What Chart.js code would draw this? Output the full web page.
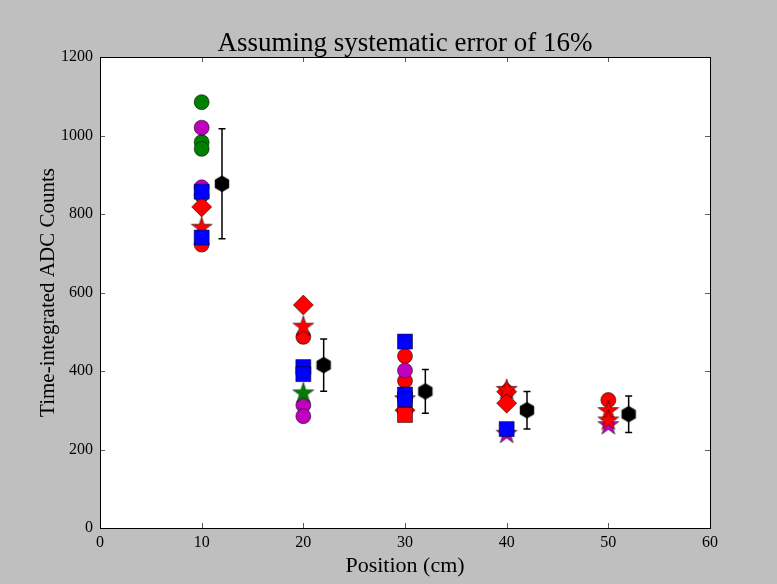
<!DOCTYPE html>
<html>
<head>
<meta charset="utf-8">
<script src="https://cdn.jsdelivr.net/npm/chart.js@4"></script>
<style>
  html, body { margin: 0; padding: 0; background: #bfbfbf; }
  body { width: 777px; height: 584px; overflow: hidden; }
  canvas { display: block; }
</style>
</head>
<body>
<canvas id="c" width="777" height="584"></canvas>
<script>
// ---- data ---------------------------------------------------------------
const chartTitle = 'Assuming systematic error of 16%';
const xLabel = 'Position (cm)';
const yLabel = 'Time-integrated ADC Counts';
const xTicks = [0, 10, 20, 30, 40, 50, 60];
const yTicks = [0, 200, 400, 600, 800, 1000, 1200];
const relError = 0.16;

const greenCircleX = [10, 10, 10, 10];
const greenCircleY = [1085, 983, 966, 848];

const redCircleX = [10, 20, 30, 30, 50];
const redCircleY = [722, 487, 438, 375, 326];

const magentaCircleX = [10, 10, 20, 20, 30];
const magentaCircleY = [1020, 868, 313, 285, 401];

const magentaStarX = [40, 50];
const magentaStarY = [240, 262];

const redDiamondX = [10, 20, 30, 40, 40];
const redDiamondY = [818, 568, 300, 347, 318];

const redStarX = [10, 20, 30, 40, 50, 50];
const redStarY = [765, 513, 328, 352, 298, 274];

const redSquareX = [30];
const redSquareY = [288];

const blueSquareX = [10, 10, 20, 20, 30, 30, 30, 40];
const blueSquareY = [857, 740, 410, 392, 475, 340, 328, 252];

const greenStarX = [20];
const greenStarY = [343];

const meanX = [12, 22, 32, 42, 52];
const meanY = [877, 415, 348, 300, 290];

// ---- helpers ------------------------------------------------------------
const EDGE = 'rgba(0,0,0,0.75)';
const SERIF = '"Liberation Serif", "Times New Roman", serif';

function pts(xs, ys) { return xs.map((x, i) => ({ x: x, y: ys[i] })); }

function polygonMarker(color, n, outer, inner) {
  const pad = 2;
  const size = Math.ceil(outer * 2 + pad * 2);
  const cv = document.createElement('canvas');
  cv.width = size; cv.height = size;
  const g = cv.getContext('2d');
  const c = size / 2;
  g.beginPath();
  const steps = inner ? n * 2 : n;
  for (let i = 0; i < steps; i++) {
    const r = inner ? (i % 2 === 0 ? outer : inner) : outer;
    const a = -Math.PI / 2 + i * 2 * Math.PI / steps;
    const px = c + r * Math.cos(a), py = c + r * Math.sin(a);
    if (i === 0) g.moveTo(px, py); else g.lineTo(px, py);
  }
  g.closePath();
  g.fillStyle = color; g.fill();
  g.lineWidth = 0.7; g.strokeStyle = EDGE; g.stroke();
  return cv;
}
const starMarker = (color) => polygonMarker(color, 5, 11, 11 * 0.382);
const hexMarker = polygonMarker('#000000', 6, 8, 0);

function series(label, xs, ys, color, style, radius) {
  return {
    label: label,
    data: pts(xs, ys),
    pointStyle: style,
    pointRadius: radius,
    pointHoverRadius: radius,
    backgroundColor: color,
    borderColor: EDGE,
    borderWidth: 0.7,
    showLine: false
  };
}

// listed bottom-most first; later series are painted over earlier ones
const datasets = [
  series('green circles', greenCircleX, greenCircleY, '#008000', 'circle', 7.5),
  series('red circles', redCircleX, redCircleY, '#ff0000', 'circle', 7.5),
  series('magenta circles', magentaCircleX, magentaCircleY, '#bf00bf', 'circle', 7.5),
  series('magenta stars', magentaStarX, magentaStarY, '#bf00bf', starMarker('#bf00bf'), 11),
  series('red diamonds', redDiamondX, redDiamondY, '#ff0000', 'rectRot', 10),
  series('red stars', redStarX, redStarY, '#ff0000', starMarker('#ff0000'), 11),
  series('red squares', redSquareX, redSquareY, '#ff0000', 'rect', 10.6),
  series('blue squares', blueSquareX, blueSquareY, '#0000ff', 'rect', 10.6),
  series('green stars', greenStarX, greenStarY, '#008000', starMarker('#008000'), 11),
  series('mean', meanX, meanY, '#000000', hexMarker, 8)
];
datasets.forEach((d, i) => { d.order = datasets.length - i; });

// ---- plugins ------------------------------------------------------------
const framePlugin = {
  id: 'frame',
  beforeDraw(chart) {
    const { ctx, chartArea: a } = chart;
    ctx.save();
    ctx.fillStyle = '#ffffff';
    ctx.fillRect(a.left, a.top, a.right - a.left, a.bottom - a.top);
    ctx.restore();
  },
  beforeDatasetsDraw(chart) {
    // vertical error bars on the mean points
    const { ctx } = chart;
    const xs = chart.scales.x, ys = chart.scales.y;
    ctx.save();
    ctx.strokeStyle = '#000';
    ctx.lineWidth = 1.5;
    meanX.forEach((mx, i) => {
      const px = xs.getPixelForValue(mx);
      const lo = ys.getPixelForValue(meanY[i] * (1 - relError));
      const hi = ys.getPixelForValue(meanY[i] * (1 + relError));
      ctx.beginPath();
      ctx.moveTo(px, lo); ctx.lineTo(px, hi);
      ctx.moveTo(px - 3.5, lo); ctx.lineTo(px + 3.5, lo);
      ctx.moveTo(px - 3.5, hi); ctx.lineTo(px + 3.5, hi);
      ctx.stroke();
    });
    ctx.restore();
  },
  afterDraw(chart) {
    const { ctx, chartArea: a } = chart;
    const xs = chart.scales.x, ys = chart.scales.y;
    ctx.save();
    // inward tick marks on all four sides
    ctx.strokeStyle = '#333';
    ctx.lineWidth = 0.8;
    const L = 5;
    ctx.beginPath();
    xTicks.forEach(v => {
      const px = Math.round(xs.getPixelForValue(v)) + 0.5;
      ctx.moveTo(px, a.bottom); ctx.lineTo(px, a.bottom - L);
      ctx.moveTo(px, a.top); ctx.lineTo(px, a.top + L);
    });
    yTicks.forEach(v => {
      const py = Math.round(ys.getPixelForValue(v)) + 0.5;
      ctx.moveTo(a.left, py); ctx.lineTo(a.left + L, py);
      ctx.moveTo(a.right, py); ctx.lineTo(a.right - L, py);
    });
    ctx.stroke();
    // frame
    ctx.strokeStyle = '#000';
    ctx.lineWidth = 1;
    ctx.strokeRect(Math.round(a.left) + 0.5, Math.round(a.top) + 0.5,
                   Math.round(a.right - a.left), Math.round(a.bottom - a.top));
    // title
    ctx.fillStyle = '#000';
    ctx.font = '27px ' + SERIF;
    ctx.textAlign = 'center';
    ctx.textBaseline = 'alphabetic';
    ctx.fillText(chartTitle, (a.left + a.right) / 2, a.top - 6);
    ctx.restore();
  }
};

// ---- chart --------------------------------------------------------------
Chart.defaults.font.family = SERIF;
Chart.defaults.color = '#000';

new Chart(document.getElementById('c'), {
  type: 'scatter',
  data: { datasets: datasets },
  options: {
    responsive: false,
    animation: false,
    events: [],
    layout: { padding: { top: 57, right: 67, bottom: 0, left: 0 } },
    plugins: { legend: { display: false }, tooltip: { enabled: false }, title: { display: false } },
    scales: {
      x: {
        type: 'linear',
        min: xTicks[0], max: xTicks[xTicks.length - 1],
        afterBuildTicks(s) { s.ticks = xTicks.map(v => ({ value: v })); },
        afterFit(s) { s.height = 56; },
        ticks: { color: '#000', font: { size: 16 }, padding: 5, autoSkip: false, maxRotation: 0,
                 callback: (v) => String(v) },
        grid: { display: false, drawTicks: false },
        border: { display: false },
        title: { display: true, text: xLabel, color: '#000', font: { size: 22 }, padding: { top: 0, bottom: 5 } }
      },
      y: {
        type: 'linear',
        min: yTicks[0], max: yTicks[yTicks.length - 1],
        afterBuildTicks(s) { s.ticks = yTicks.map(v => ({ value: v })); },
        afterFit(s) { s.width = 100; },
        ticks: { color: '#000', font: { size: 16 }, padding: 7, autoSkip: false,
                 callback: (v) => String(v) },
        grid: { display: false, drawTicks: false },
        border: { display: false },
        title: { display: true, text: yLabel, color: '#000', font: { size: 21 }, padding: { top: 36, bottom: 0 } }
      }
    }
  },
  plugins: [framePlugin]
});
</script>
</body>
</html>
